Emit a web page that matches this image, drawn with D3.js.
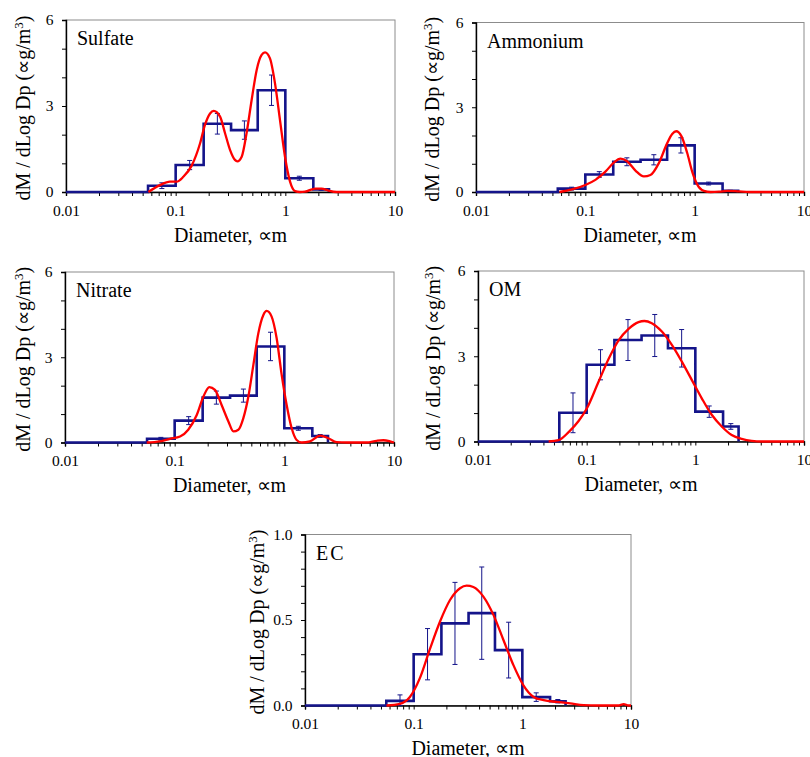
<!DOCTYPE html>
<html>
<head>
<meta charset="utf-8">
<script src="https://cdn.jsdelivr.net/npm/d3@7"></script>
<style>
body { margin: 0; background: #fff; }
svg { display: block; }
text { font-family: "Liberation Serif", "Times New Roman", serif; fill: #000; }
</style>
</head>
<body>
<div id="chart"></div>
<script>
// impactor stage cut points (um) and axis ticks
const binEdges = [0.056, 0.1, 0.18, 0.32, 0.56, 1.0, 1.8, 2.5];
const xTicks = [0.01, 0.1, 1, 10];

const sulfateMass = [0.22, 0.94, 2.38, 2.16, 3.55, 0.48, 0.09];
const sulfateErr = [0.10, 0.16, 0.36, 0.32, 0.53, 0.07, 0.03];
const sulfateFit = [[0.0564,0],[0.0719,0.24],[0.0887,0.36],[0.102,0.36],[0.1175,0.53],[0.140,0.92],[0.167,1.70],[0.185,2.34],[0.206,2.74],[0.222,2.83],[0.254,2.63],[0.282,2.05],[0.313,1.47],[0.347,1.12],[0.365,1.07],[0.400,1.23],[0.443,2.05],[0.493,3.21],[0.548,4.26],[0.608,4.78],[0.653,4.87],[0.724,4.66],[0.805,3.79],[0.894,2.51],[0.993,1.23],[1.104,0.36],[1.225,0.03],[1.36,0],[1.51,0.01],[1.87,0.12],[2.14,0.12],[2.47,0.05],[2.94,0],[10,0]];

const ammoniumMass = [0.12, 0.62, 1.07, 1.14, 1.65, 0.30, 0.04];
const ammoniumErr = [0.05, 0.10, 0.14, 0.18, 0.27, 0.05, 0.02];
const ammoniumFit = [[0.058,0],[0.0757,0.09],[0.1,0.25],[0.1236,0.43],[0.1527,0.72],[0.182,1.04],[0.2096,1.18],[0.241,1.09],[0.2875,0.76],[0.343,0.55],[0.394,0.60],[0.470,1.02],[0.561,1.73],[0.623,2.05],[0.678,2.15],[0.758,1.97],[0.855,1.38],[0.949,0.72],[1.054,0.27],[1.214,0.04],[1.40,0],[1.67,0.01],[1.99,0.04],[2.54,0.02],[3.14,0],[10,0]];

const nitrateMass = [0.13, 0.77, 1.58, 1.65, 3.38, 0.50, 0.23];
const nitrateErr = [0.05, 0.14, 0.23, 0.23, 0.50, 0.07, 0.05];
const nitrateFit = [[0.0556,0],[0.0735,0.04],[0.0906,0.13],[0.112,0.21],[0.133,0.45],[0.159,0.97],[0.183,1.62],[0.207,1.95],[0.233,1.85],[0.268,1.32],[0.309,0.74],[0.343,0.39],[0.381,0.45],[0.423,0.86],[0.470,1.62],[0.522,2.73],[0.579,3.84],[0.644,4.49],[0.690,4.63],[0.766,4.43],[0.851,3.67],[0.946,2.38],[1.05,1.32],[1.167,0.50],[1.295,0.09],[1.44,0],[1.71,0.04],[2.12,0.24],[2.52,0.15],[3.0,0.01],[3.70,0],[5.63,0],[6.95,0.06],[8.0,0.08],[9.2,0.04],[10,0]];

const omMass = [1.01, 2.70, 3.57, 3.73, 3.28, 1.05, 0.53];
const omErr = [0.70, 0.53, 0.72, 0.74, 0.66, 0.20, 0.10];
const omFit = [[0.0447,0],[0.0552,0.05],[0.0682,0.33],[0.0843,0.72],[0.100,1.15],[0.1286,2.10],[0.159,2.90],[0.196,3.55],[0.243,3.96],[0.300,4.20],[0.340,4.24],[0.398,4.16],[0.492,3.87],[0.608,3.40],[0.751,2.81],[0.927,2.17],[1.146,1.52],[1.415,0.94],[1.75,0.53],[2.16,0.23],[2.67,0.09],[3.30,0.02],[4.08,0],[10,0]];

const ecMass = [0.027, 0.30, 0.48, 0.54, 0.324, 0.049, 0.025];
const ecErr = [0.035, 0.15, 0.24, 0.27, 0.163, 0.025, 0.01];
const ecFit = [[0.0562,0],[0.0746,0.01],[0.0923,0.05],[0.114,0.16],[0.141,0.33],[0.1745,0.49],[0.216,0.617],[0.267,0.686],[0.307,0.701],[0.354,0.693],[0.438,0.637],[0.542,0.53],[0.670,0.383],[0.828,0.236],[1.02,0.119],[1.27,0.05],[1.57,0.031],[2.08,0.021],[2.76,0.012],[3.66,0.002],[5,0],[7.6,0],[8.57,0.008],[9.5,0],[10,0]];

const width = 810, height = 757;

const panels = [
  {name: "Sulfate", mass: sulfateMass, err: sulfateErr, fit: sulfateFit, yMax: 6, yMajor: [0, 3, 6], yStep: 1, fmt: d3.format("d"), box: [66, 20, 395, 192], labX: 30},
  {name: "Ammonium", mass: ammoniumMass, err: ammoniumErr, fit: ammoniumFit, yMax: 6, yMajor: [0, 3, 6], yStep: 1, fmt: d3.format("d"), box: [476, 22.5, 804, 192], labX: 439},
  {name: "Nitrate", mass: nitrateMass, err: nitrateErr, fit: nitrateFit, yMax: 6, yMajor: [0, 3, 6], yStep: 1, fmt: d3.format("d"), box: [65, 272, 394, 442.5], labX: 30},
  {name: "OM", mass: omMass, err: omErr, fit: omFit, yMax: 6, yMajor: [0, 3, 6], yStep: 1, fmt: d3.format("d"), box: [478, 271, 804, 441.5], labX: 440},
  {name: "EC", mass: ecMass, err: ecErr, fit: ecFit, yMax: 1, yMajor: [0, 0.5, 1], yStep: 0.1, fmt: d3.format(".1f"), box: [305, 534.5, 631, 705.5], labX: 264, spacing: 2}
];

const svg = d3.select("#chart")
  .append("svg")
  .attr("width", width)
  .attr("height", height);

const navy = "#14148a";

panels.forEach(p => {
  const [x0, y0, x1, y1] = p.box;
  const x = d3.scaleLog().domain([0.01, 10]).range([x0, x1]);
  const y = d3.scaleLinear().domain([0, p.yMax]).range([y1, y0]);
  const g = svg.append("g");

  // plot frame (grey top/right)
  g.append("rect")
    .attr("x", x0).attr("y", y0)
    .attr("width", x1 - x0).attr("height", y1 - y0)
    .attr("fill", "none")
    .attr("stroke", "#8c8c8c")
    .attr("stroke-width", 1);

  // x axis with minor ticks
  const minor = [];
  [0.01, 0.1, 1].forEach(d => d3.range(2, 10).forEach(k => minor.push(d * k)));
  g.append("g")
    .attr("transform", `translate(0,${y1})`)
    .call(d3.axisBottom(x).tickValues(xTicks.concat(minor)).tickSize(4)
      .tickFormat(d => xTicks.includes(d) ? d3.format("~g")(d) : ""))
    .call(a => a.select(".domain").attr("stroke-width", 1.4))
    .call(a => a.selectAll("text").attr("font-size", 15.5).attr("dy", null).attr("y", 23.7)
      .attr("font-family", "Liberation Serif"));

  // y axis
  const yTicks = d3.range(0, p.yMax + 1e-9, p.yStep).map(v => +v.toFixed(2));
  g.append("g")
    .attr("transform", `translate(${x0},0)`)
    .call(d3.axisLeft(y).tickValues(yTicks).tickSize(4)
      .tickFormat(d => p.yMajor.includes(d) ? p.fmt(d) : ""))
    .call(a => a.select(".domain").attr("stroke-width", 1.4))
    .call(a => a.selectAll("text").attr("font-size", 15.5).attr("x", -12.5)
      .attr("font-family", "Liberation Serif"));

  // measured distribution (step)
  const steps = [[0.01, 0]].concat(p.mass.map((v, i) => [binEdges[i], v]), [[binEdges[binEdges.length - 1], 0]]);
  g.append("path")
    .datum(steps)
    .attr("fill", "none")
    .attr("stroke", navy)
    .attr("stroke-width", 2.6)
    .attr("d", d3.line().x(d => x(d[0])).y(d => y(d[1])).curve(d3.curveStepAfter));

  // error bars at geometric bin centres
  const bars = p.mass.map((v, i) => ({c: Math.sqrt(binEdges[i] * binEdges[i + 1]), v: v, e: p.err[i]}));
  const eb = g.append("g").attr("stroke", navy).attr("stroke-width", 1);
  eb.selectAll(".v").data(bars).join("line")
    .attr("x1", d => x(d.c)).attr("x2", d => x(d.c))
    .attr("y1", d => y(d.v + d.e)).attr("y2", d => y(Math.max(0, d.v - d.e)));
  eb.selectAll(".t").data(bars).join("line")
    .attr("x1", d => x(d.c) - 2.5).attr("x2", d => x(d.c) + 2.5)
    .attr("y1", d => y(d.v + d.e)).attr("y2", d => y(d.v + d.e));
  eb.selectAll(".b").data(bars).join("line")
    .attr("x1", d => x(d.c) - 2.5).attr("x2", d => x(d.c) + 2.5)
    .attr("y1", d => y(Math.max(0, d.v - d.e))).attr("y2", d => y(Math.max(0, d.v - d.e)));

  // fitted lognormal modes
  g.append("path")
    .datum(p.fit)
    .attr("fill", "none")
    .attr("stroke", "#ff0000")
    .attr("stroke-width", 2.3)
    .attr("d", d3.line().x(d => x(d[0])).y(d => y(d[1])).curve(d3.curveMonotoneX));

  // panel name
  g.append("text")
    .attr("x", x0 + 11).attr("y", y0 + 25)
    .attr("font-size", 20)
    .attr("letter-spacing", p.spacing || 0)
    .text(p.name);

  // axis titles
  g.append("text")
    .attr("x", (x0 + x1) / 2).attr("y", y1 + 49.5)
    .attr("text-anchor", "middle")
    .attr("font-size", 20)
    .text("Diameter, ∝m");

  const yl = g.append("text")
    .attr("transform", `translate(${p.labX},${(y0 + y1) / 2 + 2}) rotate(-90)`)
    .attr("text-anchor", "middle")
    .attr("font-size", 20);
  yl.append("tspan").text("dM / dLog Dp (∝g/m");
  yl.append("tspan").attr("font-size", 13).attr("dy", -7.5).text("3");
  yl.append("tspan").attr("dy", 7.5).text(")");
});
</script>
</body>
</html>
